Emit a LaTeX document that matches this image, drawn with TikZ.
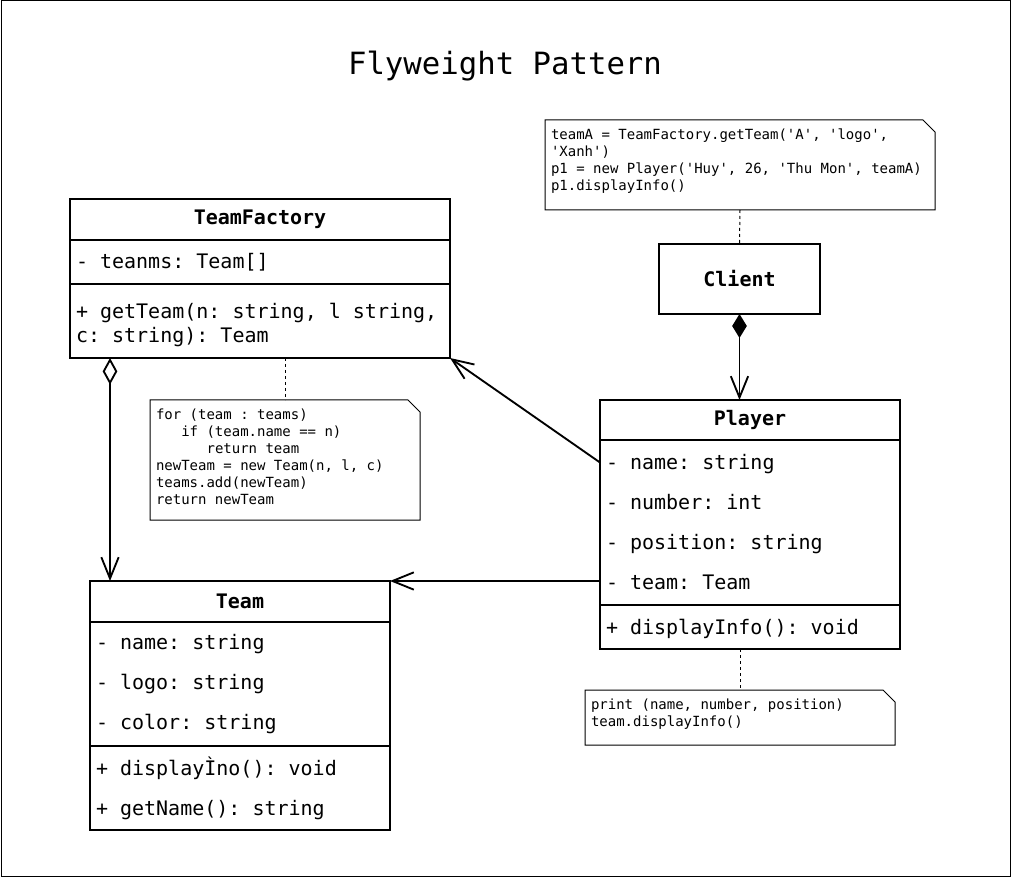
\documentclass[tikz,border=0pt]{standalone}
\usepackage{fontspec}
\setmonofont{DejaVu Sans Mono}
\usetikzlibrary{arrows.meta,positioning}

\begin{document}
\begin{tikzpicture}[x=0.75pt, y=-0.75pt,
  box/.style={draw, line width=1.4pt, anchor=north west, outer sep=0pt, inner xsep=4.5pt, inner ysep=0pt},
  hdr/.style={box, text width=#1, align=flush center, font=\ttfamily\fontsize{15}{18}\selectfont\bfseries},
  comp/.style={box, align=flush left, font=\ttfamily\fontsize{15}{30}\selectfont},
  note/.style={anchor=north west, outer sep=0pt, inner xsep=4.5pt, inner ysep=6.75pt, font=\ttfamily\fontsize{10.5}{12.75}\selectfont},
  noteln/.style={line width=0.75pt},
  dashln/.style={line width=0.75pt, dash pattern=on 2.25pt off 2.25pt},
  conn/.style={line width=1.4pt},
  opentip/.style={-{Straight Barb[length=16pt,width=13pt]}},
  compo/.style={{Diamond[length=18pt,width=11pt]}-{Straight Barb[length=16pt,width=13pt]}},
  aggr/.style={{Diamond[open,length=20pt,width=11pt]}-{Straight Barb[length=16pt,width=13pt]}}]
\useasboundingbox (0,0) rectangle (1011,877);
\draw[line width=0.75pt] (1,1) rectangle (1010,876);

% Titulo
\node[font=\ttfamily\fontsize{23}{28}\selectfont] (titulo) at (505,66) {Flyweight Pattern};

% TeamFactory
\node[hdr=276pt, minimum height=30.75pt] (fh) at (70,199) {TeamFactory};
\node[comp, text width=276pt, minimum height=33pt] (fa) at (fh.south west) {- teanms: Team[]};
\node[comp, text width=276pt, minimum height=55.5pt, font=\ttfamily\fontsize{15}{18}\selectfont] (fm) at (fa.south west) {\rule{0pt}{17pt}+ getTeam(n: string, l string,\\c: string): Team};

% Team
\node[hdr=216pt, minimum height=30.75pt] (th) at (90,581) {Team};
\node[comp, text width=216pt, minimum height=93pt] (ta) at (th.south west) {- name: string\\- logo: string\\- color: string};
\node[comp, text width=216pt, minimum height=63pt] (tm) at (ta.south west) {+ displayÌno(): void\\+ getName(): string};

% Player
\node[hdr=216pt, minimum height=30pt] (ph) at (600,400) {Player};
\node[comp, text width=216pt, minimum height=123.75pt] (pa) at (ph.south west) {- name: string\\- number: int\\- position: string\\- team: Team};
\node[comp, text width=216pt, minimum height=33pt] (pm) at (pa.south west) {\rule{0pt}{14pt}+ displayInfo(): void};

% Client
\node[hdr=111.75pt, minimum height=52.5pt] (cli) at (659,244) {Client};

% Notas
\node[note] (nc) at (545,120) {\parbox[c][54pt][t]{283.5pt}{teamA = TeamFactory.getTeam('A', 'logo',\\'Xanh')\\p1 = new Player('Huy', 26, 'Thu Mon', teamA)\\p1.displayInfo()}};
\node[note] (nf) at (150,400) {\parbox[c][76.5pt][t]{193.5pt}{for (team : teams)\\\phantom{xxx}if (team.name == n)\\\phantom{xxxxxx}return team\\newTeam = new Team(n, l, c)\\teams.add(newTeam)\\return newTeam}};
\node[note] (np) at (585,690) {\parbox[c][27.75pt][t]{223.5pt}{print (name, number, position)\\team.displayInfo()}};
\foreach \n in {nc,nf,np}{
  \draw[noteln] (\n.north west) -- ([xshift=-9pt]\n.north east) -- ([yshift=-9pt]\n.north east) -- (\n.south east) -- (\n.south west) -- cycle;
}
\draw[dashln] (nc.south) -- (cli.north);
\draw[dashln] (fm.south -| nf.north) -- (nf.north);
\draw[dashln] (pm.south -| np.north) -- (np.north);

% Relaciones
\draw[conn, compo] (cli.south) -- (cli.south |- ph.north);
\coordinate (agg) at ([xshift=30pt]fm.south west);
\draw[conn, aggr] (agg) -- (agg |- th.north);
\draw[conn, opentip] ([yshift=45pt]pa.west) -- (fm.south east);
\draw[conn, opentip] (pa.west |- th.north) -- (th.north east);
\end{tikzpicture}
\end{document}
